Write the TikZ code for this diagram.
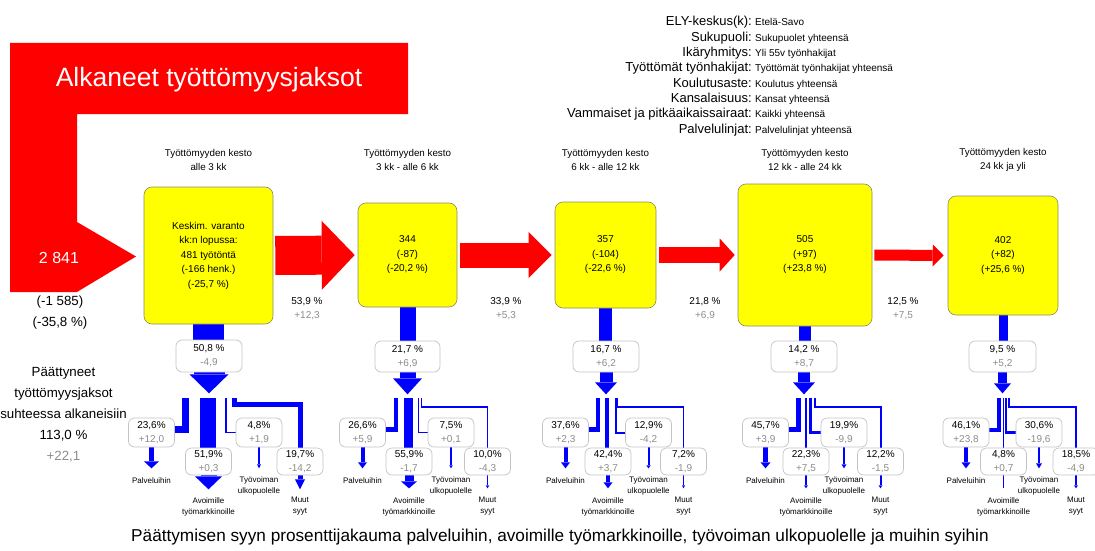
\documentclass[tikz,border=0pt]{standalone}
\usepackage{fontspec}
\setmainfont{Liberation Sans}
\usetikzlibrary{arrows.meta,calc}
\definecolor{rd}{HTML}{FF0000}
\definecolor{yl}{HTML}{FFFF00}
\definecolor{bl}{HTML}{0000FF}
\definecolor{gtxt}{HTML}{8C8C8C}
\definecolor{pbord}{HTML}{C4C4C4}
\definecolor{ybord}{HTML}{8A8A6A}
\pgfdeclarelayer{bg}
\pgfsetlayers{bg,main}
\newcommand\myfs[2]{\fontsize{#1}{#2}\selectfont}
\newcommand\grt[1]{\textcolor{gtxt}{#1}}
\begin{document}
\begin{tikzpicture}[x=1pt,y=-1pt,
 ybox/.style={draw=ybord, line width=0.6pt, fill=yl, rounded corners=8pt, align=center, inner sep=0pt, font=\myfs{10}{14.5}},
 pbox/.style={draw=pbord, line width=0.7pt, fill=white, rounded corners=6pt, align=center, inner sep=0pt, font=\myfs{10}{14}},
 ubox/.style={pbox, minimum width=46pt, minimum height=29pt},
 lbox/.style={pbox, minimum width=46pt, minimum height=27pt, font=\myfs{10}{14.5}},
 hdr/.style={align=center, font=\myfs{9.8}{14}, inner sep=0pt},
 lbl/.style={align=center, font=\myfs{8}{11}, inner sep=0pt},
 pct/.style={align=center, font=\myfs{10}{14}, inner sep=0pt},
 bigl/.style={align=center, font=\myfs{13.3}{21}, inner sep=0pt},
 metal/.style={anchor=base east, font=\myfs{13}{15}, inner sep=0pt},
 metav/.style={anchor=base west, font=\myfs{10}{15}, inner sep=0pt},
]
\clip (0,0) rectangle (1095,551);

% big red start shape
\fill[rd] (10,43) -- (408,43) -- (408,114) -- (77,114) -- (77,222) -- (136,256.5) -- (77,292) -- (10,292) -- cycle;
\node[anchor=base, text=white, font=\myfs{26.5}{30}, inner sep=0pt] (title) at (209,86) {Alkaneet työttömyysjaksot};
\node[text=white, font=\myfs{16}{18}, inner sep=0pt] (start) at (59,257.5) {2 841};
\node[bigl] (startd) at (60,312.5) {(-1 585)\\(-35,8 \%)};
\node[bigl] (ended) at (63.5,415) {Päättyneet\\työttömyysjaksot\\suhteessa alkaneisiin\\113,0 \%\\\grt{+22,1}};

% metadata
\node[metal] (m1) at (752,26) {ELY-keskus(k):};
\node[metav] (v1) at (755,26) {Etelä-Savo};
\node[metal] (m2) at (752,41.3) {Sukupuoli:};
\node[metav] (v2) at (755,41.3) {Sukupuolet yhteensä};
\node[metal] (m3) at (752,56.6) {Ikäryhmitys:};
\node[metav] (v3) at (755,56.6) {Yli 55v työnhakijat};
\node[metal] (m4) at (752,71.9) {Työttömät työnhakijat:};
\node[metav] (v4) at (755,71.9) {Työttömät työnhakijat yhteensä};
\node[metal] (m5) at (752,87.2) {Koulutusaste:};
\node[metav] (v5) at (755,87.2) {Koulutus yhteensä};
\node[metal] (m6) at (752,102.5) {Kansalaisuus:};
\node[metav] (v6) at (755,102.5) {Kansat yhteensä};
\node[metal] (m7) at (752,117.8) {Vammaiset ja pitkäaikaissairaat:};
\node[metav] (v7) at (755,117.8) {Kaikki yhteensä};
\node[metal] (m8) at (752,133.1) {Palvelulinjat:};
\node[metav] (v8) at (755,133.1) {Palvelulinjat yhteensä};

% headers
\node[hdr] (h1) at (208.5,160) {Työttömyyden kesto\\alle 3 kk};
\node[hdr] (h2) at (407.5,160) {Työttömyyden kesto\\3 kk - alle 6 kk};
\node[hdr] (h3) at (605.5,160) {Työttömyyden kesto\\6 kk - alle 12 kk};
\node[hdr] (h4) at (805,160) {Työttömyyden kesto\\12 kk - alle 24 kk};
\node[hdr] (h5) at (1003,160) {Työttömyyden kesto\\24 kk ja yli};

% yellow stock boxes
\node[ybox, minimum width=129pt, minimum height=137pt] (b1) at (208.5,255.5) {Keskim. varanto\\kk:n lopussa:\\481 työtöntä\\(-166 henk.)\\(-25,7 \%)};
\node[ybox, minimum width=99pt, minimum height=104pt] (b2) at (407.5,255) {344\\(-87)\\(-20,2 \%)};
\node[ybox, minimum width=101pt, minimum height=106pt] (b3) at (605.5,255) {357\\(-104)\\(-22,6 \%)};
\node[ybox, minimum width=134pt, minimum height=142pt] (b4) at (805,255) {505\\(+97)\\(+23,8 \%)};
\node[ybox, minimum width=110pt, minimum height=119pt] (b5) at (1003,255.5) {402\\(+82)\\(+25,6 \%)};

% red transition arrows
\draw[rd, line width=39pt, -{Triangle[width=69pt,length=33pt,line width=0pt]}, shorten <=2pt, shorten >=3pt] (b1.east) -- (b2.west);
\draw[rd, line width=25pt, -{Triangle[width=46pt,length=23pt,line width=0pt]}, shorten <=3pt, shorten >=3pt] (b2.east) -- (b3.west);
\draw[rd, line width=16pt, -{Triangle[width=33pt,length=15pt,line width=0pt]}, shorten <=3pt, shorten >=3pt] (b3.east) -- (b4.west);
\draw[rd, line width=11pt, -{Triangle[width=22pt,length=11pt,line width=0pt]}, shorten <=2pt, shorten >=4pt] (b4.east) -- (b5.west);

\node[pct] (r1) at (307,309) {53,9 \%\\\grt{+12,3}};
\node[pct] (r2) at (506,309) {33,9 \%\\\grt{+5,3}};
\node[pct] (r3) at (705,309) {21,8 \%\\\grt{+6,9}};
\node[pct] (r4) at (903,309) {12,5 \%\\\grt{+7,5}};

% exit share boxes
\node[pbox, minimum width=66pt, minimum height=32pt] (p1) at (209,356) {50,8 \%\\\grt{-4,9}};
\node[pbox, minimum width=65pt, minimum height=31pt] (p2) at (407.5,356.5) {21,7 \%\\\grt{+6,9}};
\node[pbox, minimum width=66pt, minimum height=31pt] (p3) at (606,356.5) {16,7 \%\\\grt{+6,2}};
\node[pbox, minimum width=66pt, minimum height=31pt] (p4) at (804,356.5) {14,2 \%\\\grt{+8,7}};
\node[pbox, minimum width=67pt, minimum height=31pt] (p5) at (1002.5,356.5) {9,5 \%\\\grt{+5,2}};

% branch boxes and labels
\node[ubox] (s1p) at (151.5,432.5) {23,6\%\\\grt{+12,0}};
\node[lbox] (s1a) at (208.5,461.5) {51,9\%\\\grt{+0,3}};
\node[ubox] (s1t) at (259,432.5) {4,8\%\\\grt{+1,9}};
\node[lbox] (s1m) at (300,461.5) {19,7\%\\\grt{-14,2}};
\node[ubox] (s2p) at (362.5,432.5) {26,6\%\\\grt{+5,9}};
\node[lbox] (s2a) at (409,461.5) {55,9\%\\\grt{-1,7}};
\node[ubox] (s2t) at (451,432.5) {7,5\%\\\grt{+0,1}};
\node[lbox] (s2m) at (487.5,461.5) {10,0\%\\\grt{-4,3}};
\node[ubox] (s3p) at (565.5,432.5) {37,6\%\\\grt{+2,3}};
\node[lbox] (s3a) at (608,461.5) {42,4\%\\\grt{+3,7}};
\node[ubox] (s3t) at (648.5,432.5) {12,9\%\\\grt{-4,2}};
\node[lbox] (s3m) at (683.5,461.5) {7,2\%\\\grt{-1,9}};
\node[ubox] (s4p) at (765.5,432.5) {45,7\%\\\grt{+3,9}};
\node[lbox] (s4a) at (806,461.5) {22,3\%\\\grt{+7,5}};
\node[ubox] (s4t) at (844,432.5) {19,9\%\\\grt{-9,9}};
\node[lbox] (s4m) at (880.5,461.5) {12,2\%\\\grt{-1,5}};
\node[ubox] (s5p) at (966,432.5) {46,1\%\\\grt{+23,8}};
\node[lbox] (s5a) at (1003.5,461.5) {4,8\%\\\grt{+0,7}};
\node[ubox] (s5t) at (1039,432.5) {30,6\%\\\grt{-19,6}};
\node[lbox] (s5m) at (1076,461.5) {18,5\%\\\grt{-4,9}};

\foreach \i/\xp/\xa/\xt/\xm in {1/151.5/208.5/259/300, 2/362.5/409/451/487.5, 3/565.5/608/648.5/683.5, 4/765.5/806/844/880.5, 5/966/1003.5/1039/1076}{
  \node[lbl] (l\i p) at (\xp,481) {Palveluihin};
  \node[lbl] (l\i a) at (\xa,506.5) {Avoimille\\työmarkkinoille};
  \node[lbl] (l\i t) at (\xt,485.5) {Työvoiman\\ulkopuolelle};
  \node[lbl] (l\i m) at (\xm,506.5) {Muut\\syyt};
}

% junction points
\coordinate (j1p) at (185,398);   \coordinate (j1a) at (208,398);   \coordinate (j1t) at (226,398);   \coordinate (j1m) at (234.5,398);
\coordinate (j2p) at (396,398);   \coordinate (j2a) at (408.5,398); \coordinate (j2t) at (418.5,398); \coordinate (j2m) at (421.5,398);
\coordinate (j3p) at (598,398);   \coordinate (j3a) at (607,398);   \coordinate (j3t) at (615.5,398); \coordinate (j3m) at (617.5,398);
\coordinate (j4p) at (798.5,398); \coordinate (j4a) at (806,398);   \coordinate (j4t) at (810.5,398); \coordinate (j4m) at (815,398);
\coordinate (j5p) at (999,398);   \coordinate (j5a) at (1003.5,398);\coordinate (j5t) at (1006,398);  \coordinate (j5m) at (1008.5,398);

\begin{pgfonlayer}{bg}
% stage 1
\draw[bl, line width=31pt] (b1.south) -- (b1.south |- p1.north);
\draw[bl, line width=31pt, -{Triangle[width=39pt,length=19pt,line width=0pt]}] (p1.south) -- ++(0,21);
\draw[bl, line width=7pt] (j1p) |- ($(s1p.east)+(0,-3)$);
\draw[bl, line width=16pt] (j1a) -- (j1a |- s1a.north);
\draw[bl, line width=1.5pt] (j1t) |- (s1t.west);
\draw[bl, line width=5pt] (j1m) -- ++(0,6.5) -| (s1m.north);
\draw[bl, line width=5pt, -{Triangle[width=15pt,length=7pt,line width=0pt]}] (s1p.south) -- ++(0,21);
\draw[bl, line width=16pt, -{Triangle[width=27pt,length=13pt,line width=0pt]}] (s1a.south) -- ++(0,14);
\draw[bl, line width=1.5pt, -{Triangle[width=4pt,length=4pt,line width=0pt]}] (s1t.south) -- ++(0,21);
\draw[bl, line width=5pt, -{Triangle[width=10pt,length=10pt,line width=0pt]}] (s1m.south) -- ++(0,14);
% stage 2
\draw[bl, line width=16pt] (b2.south) -- (b2.south |- p2.north);
\draw[bl, line width=16pt, -{Triangle[width=29pt,length=16pt,line width=0pt]}] (p2.south) -- ++(0,22);
\draw[bl, line width=4.5pt] (j2p) |- ($(s2p.east)+(0,-3)$);
\draw[bl, line width=9pt] (j2a) -- (j2a |- s2a.north);
\draw[bl, line width=1.5pt] (j2t) |- (s2t.west);
\draw[bl, line width=1.5pt] (j2m) -- ++(0,9) -| (s2m.north);
\draw[bl, line width=4pt, -{Triangle[width=9pt,length=6pt,line width=0pt]}] (s2p.south) -- ++(0,21);
\draw[bl, line width=9pt, -{Triangle[width=16pt,length=7pt,line width=0pt]}] (s2a.south) -- ++(0,13);
\draw[bl, line width=1.5pt, -{Triangle[width=3.5pt,length=3pt,line width=0pt]}] (s2t.south) -- ++(0,21);
\draw[bl, line width=1.5pt, -{Triangle[width=3.5pt,length=3pt,line width=0pt]}] (s2m.south) -- ++(0,13);
% stage 3
\draw[bl, line width=13pt] (b3.south) -- (b3.south |- p3.north);
\draw[bl, line width=13pt, -{Triangle[width=22pt,length=12pt,line width=0pt]}] (p3.south) -- ++(0,22);
\draw[bl, line width=4.5pt] (j3p) |- ($(s3p.east)+(0,-3)$);
\draw[bl, line width=4pt] (j3a) -- (j3a |- s3a.north);
\draw[bl, line width=2pt] (j3t) |- (s3t.west);
\draw[bl, line width=1.2pt] (j3m) -- ++(0,9) -| (s3m.north);
\draw[bl, line width=4pt, -{Triangle[width=9pt,length=6pt,line width=0pt]}] (s3p.south) -- ++(0,21);
\draw[bl, line width=4pt, -{Triangle[width=9pt,length=6pt,line width=0pt]}] (s3a.south) -- ++(0,13);
\draw[bl, line width=2pt, -{Triangle[width=4.5pt,length=3pt,line width=0pt]}] (s3t.south) -- ++(0,21);
\draw[bl, line width=1.2pt, -{Triangle[width=3pt,length=3pt,line width=0pt]}] (s3m.south) -- ++(0,13);
% stage 4
\draw[bl, line width=12pt] (b4.south) -- (b4.south |- p4.north);
\draw[bl, line width=12pt, -{Triangle[width=22pt,length=12pt,line width=0pt]}] (p4.south) -- ++(0,22);
\draw[bl, line width=5pt] (j4p) |- ($(s4p.east)+(0,-3)$);
\draw[bl, line width=2pt] (j4a) -- (j4a |- s4a.north);
\draw[bl, line width=2.5pt] (j4t) |- (s4t.west);
\draw[bl, line width=2pt] (j4m) -- ++(0,9) -| (s4m.north);
\draw[bl, line width=5pt, -{Triangle[width=10pt,length=6pt,line width=0pt]}] (s4p.south) -- ++(0,21);
\draw[bl, line width=2pt, -{Triangle[width=4pt,length=3pt,line width=0pt]}] (s4a.south) -- ++(0,13);
\draw[bl, line width=2.5pt, -{Triangle[width=5pt,length=4pt,line width=0pt]}] (s4t.south) -- ++(0,21);
\draw[bl, line width=2pt, -{Triangle[width=4pt,length=3pt,line width=0pt]}] (s4m.south) -- ++(0,13);
% stage 5
\draw[bl, line width=9pt] (b5.south) -- (b5.south |- p5.north);
\draw[bl, line width=9pt, -{Triangle[width=17pt,length=10pt,line width=0pt]}] (p5.south) -- ++(0,21);
\draw[bl, line width=4pt] (j5p) |- ($(s5p.east)+(0,-3)$);
\draw[bl, line width=0.7pt] (j5a) -- (j5a |- s5a.north);
\draw[bl, line width=2.5pt] (j5t) |- (s5t.west);
\draw[bl, line width=2pt] (j5m) -- ++(0,9) -| (s5m.north);
\draw[bl, line width=4pt, -{Triangle[width=9pt,length=6pt,line width=0pt]}] (s5p.south) -- ++(0,21);
\draw[bl, line width=0.7pt] (s5a.south) -- ++(0,13);
\draw[bl, line width=2.5pt, -{Triangle[width=6pt,length=5pt,line width=0pt]}] (s5t.south) -- ++(0,21);
\draw[bl, line width=2pt, -{Triangle[width=4pt,length=3pt,line width=0pt]}] (s5m.south) -- ++(0,13);
\end{pgfonlayer}

% caption
\node[font=\myfs{17.2}{20}, inner sep=0pt] (cap) at (560,537) {Päättymisen syyn prosenttijakauma palveluihin, avoimille työmarkkinoille, työvoiman ulkopuolelle ja muihin syihin};
\end{tikzpicture}
\end{document}
